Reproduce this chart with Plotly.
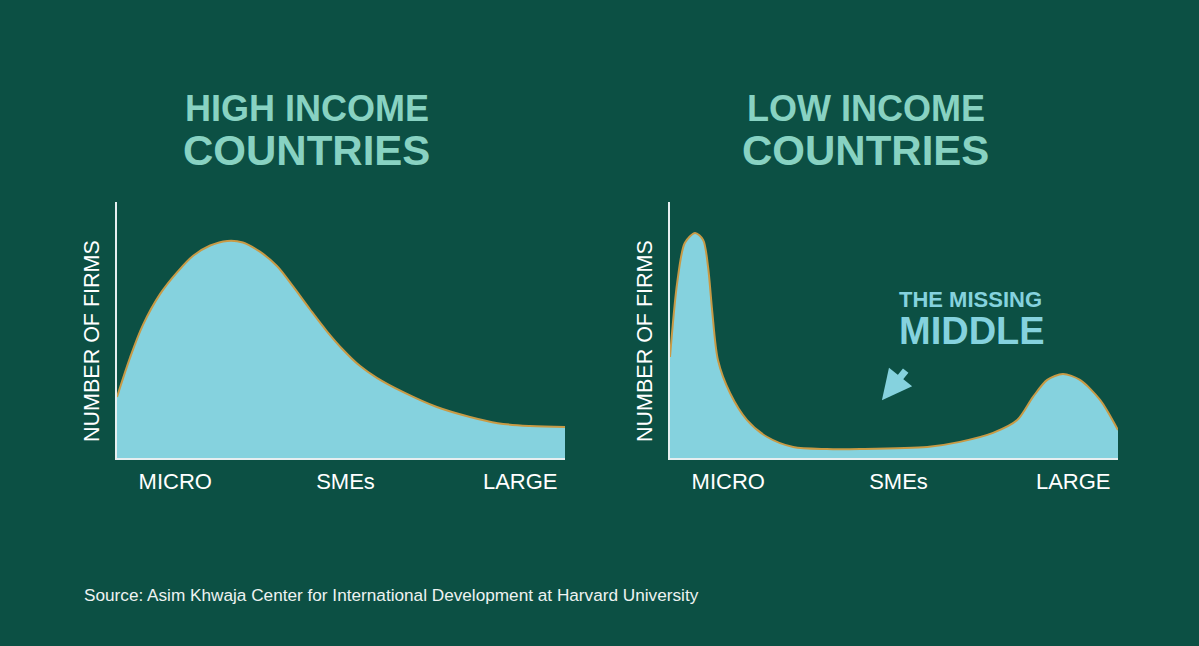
import plotly.graph_objs as go

# curve values (x: 0-100 firm size scale, y: 0-100 relative count)
high_x = [0, 2.9, 5.8, 9.6, 13.4, 17.0, 20.8, 24.6, 28.1, 31.9, 35.7, 39.3, 43.1, 46.9,
          50.4, 54.2, 58.0, 63.8, 71.4, 78.8, 85.0, 92.2, 100]
high_y = [23.8, 39.1, 52.0, 64.0, 72.5, 79.0, 83.0, 84.8, 84.2, 80.6, 75.0, 67.0, 58.0, 49.4,
          42.4, 36.0, 31.3, 25.8, 19.9, 16.0, 13.6, 12.5, 12.1]

low_x = [0, 1.6, 3.3, 5.6, 7.4, 8.5, 9.4, 10.7, 13.4, 17.2, 21.7, 27.5, 35.0, 42.4,
         57.4, 64.7, 72.1, 77.5, 81.0, 84.2, 87.7, 91.5, 96.0, 100]
low_y = [39.5, 68.4, 84.0, 87.9, 85.2, 74.6, 57.8, 38.3, 25.4, 14.8, 8.2, 4.3, 3.5, 3.5,
         4.3, 6.3, 9.8, 14.8, 23.8, 30.5, 32.8, 30.5, 22.7, 10.9]

tick_pos = [13, 51, 90]
tick_labels = ['MICRO', 'SMEs', 'LARGE']

bg = '#0c5044'
fill_col = '#85d2de'
edge_col = '#c89a45'
title_col = '#88d2c2'
font_fam = 'Liberation Sans, Arial, sans-serif'

data = [
    go.Scatter(x=high_x, y=high_y, mode='lines', line={'shape': 'spline', 'color': edge_col, 'width': 2},
               fill='tozeroy', fillcolor=fill_col, xaxis='x', yaxis='y', hoverinfo='skip'),
    go.Scatter(x=low_x, y=low_y, mode='lines', line={'shape': 'spline', 'color': edge_col, 'width': 2, 'smoothing': 0.8},
               fill='tozeroy', fillcolor=fill_col, xaxis='x2', yaxis='y2', hoverinfo='skip'),
]

xax = dict(range=[0, 100], showgrid=False, zeroline=False, showline=True, linecolor='#e6eef0', linewidth=2,
           tickvals=tick_pos, ticktext=tick_labels, ticks='outside', ticklen=3, tickcolor='rgba(0,0,0,0)',
           tickfont={'size': 22, 'color': 'white', 'family': font_fam}, fixedrange=True)
yax = dict(range=[0, 100], showgrid=False, zeroline=False, showline=True, linecolor='#e6eef0', linewidth=2,
           showticklabels=False, fixedrange=True)

ydom = [1 - 458 / 646, 1 - 202 / 646]


def label(text, x, y, size, color, xanchor='center', angle=0):
    return dict(text=text, x=x, y=y, xref='paper', yref='paper', xanchor=xanchor, yanchor='middle',
                textangle=angle, showarrow=False, font={'size': size, 'color': color, 'family': font_fam})


annotations = [
    label('<b>HIGH INCOME</b>', 0.256, 0.832, 36, title_col),
    label('<b>COUNTRIES</b>', 0.256, 0.767, 42, title_col),
    label('<b>LOW INCOME</b>', 0.722, 0.832, 36, title_col),
    label('<b>COUNTRIES</b>', 0.722, 0.767, 42, title_col),
    label('NUMBER OF FIRMS', 92 / 1199, 1 - 341 / 646, 21.5, 'white', angle=-90),
    label('NUMBER OF FIRMS', 645 / 1199, 1 - 341 / 646, 21.5, 'white', angle=-90),
    label('<b>THE MISSING</b>', 0.748, 0.537, 22, fill_col, 'left'),
    label('<b>MIDDLE</b>', 0.748, 0.488, 38, fill_col, 'left'),
    # arrow pointing at the gap
    dict(text='', x=47.3, y=22.6, xref='x2', yref='y2', showarrow=True, ax=25, ay=-31,
         arrowhead=2, arrowsize=0.85, arrowwidth=7, arrowcolor=fill_col),
    label('Source: Asim Khwaja Center for International Development at Harvard University',
          0.068, 0.079, 17.2, '#eef3f2', 'left'),
]

layout = go.Layout(width=1199, height=646, margin={'l': 0, 'r': 0, 't': 0, 'b': 0},
                   paper_bgcolor=bg, plot_bgcolor=bg, showlegend=False,
                   xaxis=dict(xax, domain=[117 / 1199, 565 / 1199], anchor='y'),
                   yaxis=dict(yax, domain=ydom, anchor='x'),
                   xaxis2=dict(xax, domain=[670 / 1199, 1118 / 1199], anchor='y2'),
                   yaxis2=dict(yax, domain=ydom, anchor='x2'),
                   annotations=annotations)

fig = go.Figure(data=data, layout=layout)
fig.write_html('out.html', config={'displayModeBar': False},
               post_script="document.body.style.margin='0';document.body.style.background='%s';" % bg)
